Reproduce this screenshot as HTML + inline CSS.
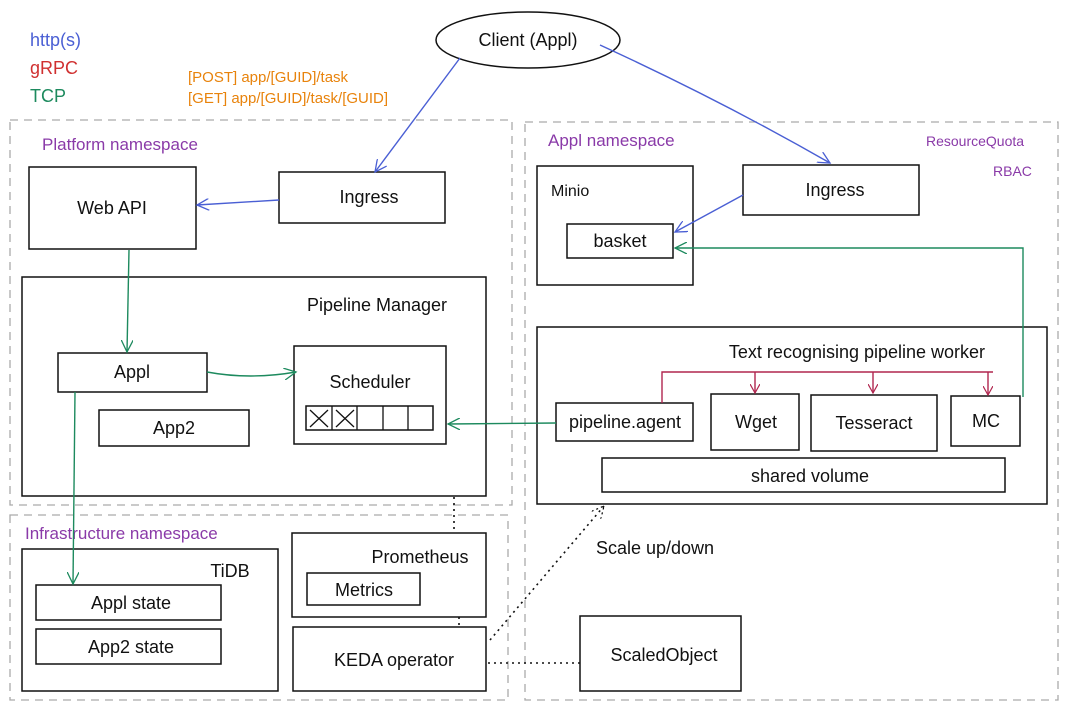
<!DOCTYPE html>
<html><head><meta charset="utf-8"><style>
html,body{margin:0;padding:0;background:#fff;}
svg{display:block;font-family:"Liberation Sans",sans-serif;}
</style></head><body>
<svg width="1068" height="712" viewBox="0 0 1068 712" xmlns="http://www.w3.org/2000/svg">
<defs>
<marker id="ab" markerWidth="14" markerHeight="12" refX="12" refY="6" orient="auto" markerUnits="userSpaceOnUse"><path d="M0,0 L12,6 L0,12" fill="none" stroke="#4a5fd4" stroke-width="1.3"/></marker>
<marker id="ag" markerWidth="14" markerHeight="12" refX="12" refY="6" orient="auto" markerUnits="userSpaceOnUse"><path d="M0,0 L12,6 L0,12" fill="none" stroke="#1d8a5e" stroke-width="1.3"/></marker>
<marker id="ar" markerWidth="10" markerHeight="10" refX="9" refY="5" orient="auto" markerUnits="userSpaceOnUse"><path d="M0,0 L9,5 L0,10" fill="none" stroke="#b0264f" stroke-width="1.2"/></marker>
<marker id="ak" markerWidth="14" markerHeight="12" refX="12" refY="6" orient="auto" markerUnits="userSpaceOnUse"><path d="M0,0 L12,6 L0,12" fill="none" stroke="#000" stroke-width="1.2" stroke-dasharray="2 3"/></marker>
</defs>
<g fill="none" stroke="#aaa" stroke-width="1.3" stroke-dasharray="8 6">
<rect x="10" y="120" width="502" height="385"/>
<rect x="525" y="122" width="533" height="578"/>
<rect x="10" y="515" width="498" height="185"/>
</g>
<g font-size="17">
<text x="30" y="46" fill="#4a5fd4" font-size="18">http(s)</text>
<text x="30" y="74" fill="#d03030" font-size="18">gRPC</text>
<text x="30" y="102" fill="#1d8a5e" font-size="18">TCP</text>
<text x="188" y="82" fill="#e8830c" font-size="15">[POST] app/[GUID]/task</text>
<text x="188" y="103" fill="#e8830c" font-size="15">[GET] app/[GUID]/task/[GUID]</text>
<text x="42" y="150" fill="#8a3aa8">Platform namespace</text>
<text x="548" y="146" fill="#8a3aa8">Appl namespace</text>
<text x="926" y="146" fill="#8a3aa8" font-size="14">ResourceQuota</text>
<text x="993" y="176" fill="#8a3aa8" font-size="14">RBAC</text>
<text x="25" y="539" fill="#8a3aa8">Infrastructure namespace</text>
<text x="556" y="360" fill="#8a3aa8" font-size="18">Deployment</text>
<text x="556" y="385" fill="#8a3aa8" font-size="18">Scale 5</text>
</g>
<g fill="#fff" stroke="#111" stroke-width="1.5">
<ellipse cx="528" cy="40" rx="92" ry="28"/>
<rect x="29" y="167" width="167" height="82"/>
<rect x="279" y="172" width="166" height="51"/>
<rect x="22" y="277" width="464" height="219"/>
<rect x="58" y="353" width="149" height="39"/>
<rect x="99" y="410" width="150" height="36"/>
<rect x="294" y="346" width="152" height="98"/>
<rect x="306" y="406" width="127" height="24"/>
<rect x="537" y="166" width="156" height="119"/>
<rect x="567" y="224" width="106" height="34"/>
<rect x="743" y="165" width="176" height="50"/>
<rect x="537" y="327" width="510" height="177"/>
<rect x="556" y="403" width="137" height="38"/>
<rect x="711" y="394" width="88" height="56"/>
<rect x="811" y="395" width="126" height="56"/>
<rect x="951" y="396" width="69" height="50"/>
<rect x="602" y="458" width="403" height="34"/>
<rect x="22" y="549" width="256" height="142"/>
<rect x="36" y="585" width="185" height="35"/>
<rect x="36" y="629" width="185" height="35"/>
<rect x="292" y="533" width="194" height="84"/>
<rect x="307" y="573" width="113" height="32"/>
<rect x="293" y="627" width="193" height="64"/>
<rect x="580" y="616" width="161" height="75"/>
</g>
<g stroke="#111" stroke-width="1.3" fill="none">
<path d="M332,406V430M357,406V430M383,406V430M408,406V430"/>
<path d="M310,410L328,427M328,410L310,427M336,410L354,427M354,410L336,427"/>
</g>
<g font-size="18" fill="#111" text-anchor="middle">
<text x="528" y="46">Client (Appl)</text>
<text x="112" y="214">Web API</text>
<text x="369" y="203">Ingress</text>
<text x="377" y="311">Pipeline Manager</text>
<text x="132" y="378">Appl</text>
<text x="174" y="434">App2</text>
<text x="370" y="388">Scheduler</text>
<text x="551" y="196" text-anchor="start" font-size="16">Minio</text>
<text x="620" y="247">basket</text>
<text x="835" y="196">Ingress</text>
<text x="857" y="358">Text recognising pipeline worker</text>
<text x="625" y="428">pipeline.agent</text>
<text x="756" y="428">Wget</text>
<text x="874" y="429">Tesseract</text>
<text x="986" y="427">MC</text>
<text x="810" y="482">shared volume</text>
<text x="230" y="577">TiDB</text>
<text x="131" y="609">Appl state</text>
<text x="131" y="653">App2 state</text>
<text x="420" y="563">Prometheus</text>
<text x="364" y="596">Metrics</text>
<text x="394" y="666">KEDA operator</text>
<text x="664" y="661">ScaledObject</text>
<text x="655" y="554">Scale up/down</text>
</g>
<g fill="none" stroke-width="1.4">
<path d="M460,58L375,172" stroke="#4a5fd4" marker-end="url(#ab)"/>
<path d="M600,45Q720,100 830,163" stroke="#4a5fd4" marker-end="url(#ab)"/>
<path d="M279,200L197,205" stroke="#4a5fd4" marker-end="url(#ab)"/>
<path d="M743,195L675,232" stroke="#4a5fd4" marker-end="url(#ab)"/>
<path d="M129,250L127,352" stroke="#1d8a5e" marker-end="url(#ag)"/>
<path d="M207,372Q250,380 296,372" stroke="#1d8a5e" marker-end="url(#ag)"/>
<path d="M75,392L73,584" stroke="#1d8a5e" marker-end="url(#ag)"/>
<path d="M556,423L448,424" stroke="#1d8a5e" marker-end="url(#ag)"/>
<path d="M1023,397V248H675" stroke="#1d8a5e" marker-end="url(#ag)"/>
<path d="M662,403V372H993" stroke="#b0264f"/>
<path d="M755,372V393" stroke="#b0264f" marker-end="url(#ar)"/>
<path d="M873,372V393" stroke="#b0264f" marker-end="url(#ar)"/>
<path d="M988,372V395" stroke="#b0264f" marker-end="url(#ar)"/>
<g stroke="#111" stroke-dasharray="2 4" stroke-width="1.6">
<path d="M454,497V532"/>
<path d="M459,617V627"/>
<path d="M488,663H580"/>
<path d="M490,640L604,506" marker-end="url(#ak)"/>
</g>
</g>
</svg>
</body></html>
